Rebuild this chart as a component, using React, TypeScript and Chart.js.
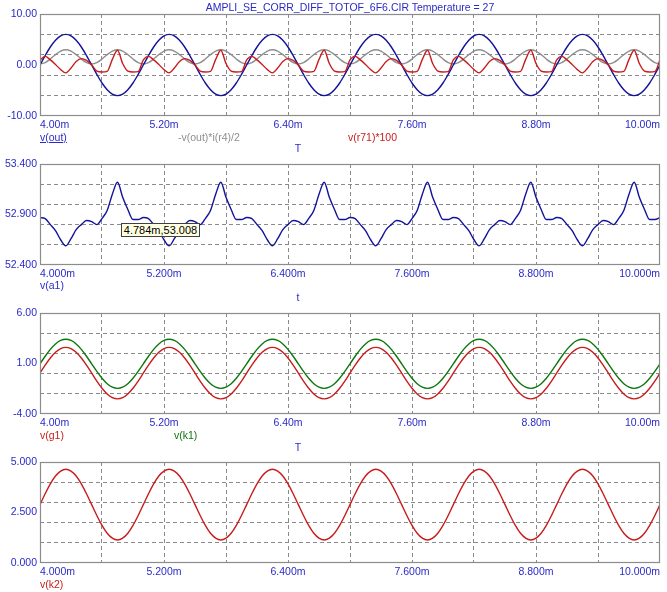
import React, { useEffect, useRef } from 'react';
import { Chart, registerables } from 'chart.js';

Chart.register(...registerables);

// ---------- data (time in ms) ----------
const TIME_MS = [
  4.00, 4.05, 4.10, 4.15, 4.20, 4.25, 4.30, 4.35, 4.40, 4.45, 4.50, 4.55, 4.60, 4.65, 4.70, 4.75, 4.80, 4.85, 4.90, 4.95,
  5.00, 5.05, 5.10, 5.15, 5.20, 5.25, 5.30, 5.35, 5.40, 5.45, 5.50, 5.55, 5.60, 5.65, 5.70, 5.75, 5.80, 5.85, 5.90, 5.95,
  6.00, 6.05, 6.10, 6.15, 6.20, 6.25, 6.30, 6.35, 6.40, 6.45, 6.50, 6.55, 6.60, 6.65, 6.70, 6.75, 6.80, 6.85, 6.90, 6.95,
  7.00, 7.05, 7.10, 7.15, 7.20, 7.25, 7.30, 7.35, 7.40, 7.45, 7.50, 7.55, 7.60, 7.65, 7.70, 7.75, 7.80, 7.85, 7.90, 7.95,
  8.00, 8.05, 8.10, 8.15, 8.20, 8.25, 8.30, 8.35, 8.40, 8.45, 8.50, 8.55, 8.60, 8.65, 8.70, 8.75, 8.80, 8.85, 8.90, 8.95,
  9.00, 9.05, 9.10, 9.15, 9.20, 9.25, 9.30, 9.35, 9.40, 9.45, 9.50, 9.55, 9.60, 9.65, 9.70, 9.75, 9.80, 9.85, 9.90, 9.95,
  10.00,
];

const V_OUT = [
  0, 1.85, 3.53, 4.85, 5.71, 6.00, 5.71, 4.85, 3.53, 1.85, 0, -1.85, -3.53, -4.85, -5.71, -6.00, -5.71, -4.85, -3.53, -1.85,
  0, 1.85, 3.53, 4.85, 5.71, 6.00, 5.71, 4.85, 3.53, 1.85, 0, -1.85, -3.53, -4.85, -5.71, -6.00, -5.71, -4.85, -3.53, -1.85,
  0, 1.85, 3.53, 4.85, 5.71, 6.00, 5.71, 4.85, 3.53, 1.85, 0, -1.85, -3.53, -4.85, -5.71, -6.00, -5.71, -4.85, -3.53, -1.85,
  0, 1.85, 3.53, 4.85, 5.71, 6.00, 5.71, 4.85, 3.53, 1.85, 0, -1.85, -3.53, -4.85, -5.71, -6.00, -5.71, -4.85, -3.53, -1.85,
  0, 1.85, 3.53, 4.85, 5.71, 6.00, 5.71, 4.85, 3.53, 1.85, 0, -1.85, -3.53, -4.85, -5.71, -6.00, -5.71, -4.85, -3.53, -1.85,
  0, 1.85, 3.53, 4.85, 5.71, 6.00, 5.71, 4.85, 3.53, 1.85, 0, -1.85, -3.53, -4.85, -5.71, -6.00, -5.71, -4.85, -3.53, -1.85,
  0,
];

const POWER_R4 = [
  0.20, 0.47, 1.17, 2.03, 2.73, 3.00, 2.73, 2.03, 1.17, 0.47, 0.20, 0.47, 1.17, 2.03, 2.73, 3.00, 2.73, 2.03, 1.17, 0.47,
  0.20, 0.47, 1.17, 2.03, 2.73, 3.00, 2.73, 2.03, 1.17, 0.47, 0.20, 0.47, 1.17, 2.03, 2.73, 3.00, 2.73, 2.03, 1.17, 0.47,
  0.20, 0.47, 1.17, 2.03, 2.73, 3.00, 2.73, 2.03, 1.17, 0.47, 0.20, 0.47, 1.17, 2.03, 2.73, 3.00, 2.73, 2.03, 1.17, 0.47,
  0.20, 0.47, 1.17, 2.03, 2.73, 3.00, 2.73, 2.03, 1.17, 0.47, 0.20, 0.47, 1.17, 2.03, 2.73, 3.00, 2.73, 2.03, 1.17, 0.47,
  0.20, 0.47, 1.17, 2.03, 2.73, 3.00, 2.73, 2.03, 1.17, 0.47, 0.20, 0.47, 1.17, 2.03, 2.73, 3.00, 2.73, 2.03, 1.17, 0.47,
  0.20, 0.47, 1.17, 2.03, 2.73, 3.00, 2.73, 2.03, 1.17, 0.47, 0.20, 0.47, 1.17, 2.03, 2.73, 3.00, 2.73, 2.03, 1.17, 0.47,
  0.20,
];

const V_R71 = [
  1.0, 1.7, 1.0, 0.1, -0.9, -1.55, -0.6, 0.7, 1.25, 0.9, 0.0, -1.2, -1.37, -1.25, 1.1, 2.9, 0.3, -1.2, -1.37, -1.3,
  1.0, 1.7, 1.0, 0.1, -0.9, -1.55, -0.6, 0.7, 1.25, 0.9, 0.0, -1.2, -1.37, -1.25, 1.1, 2.9, 0.3, -1.2, -1.37, -1.3,
  1.0, 1.7, 1.0, 0.1, -0.9, -1.55, -0.6, 0.7, 1.25, 0.9, 0.0, -1.2, -1.37, -1.25, 1.1, 2.9, 0.3, -1.2, -1.37, -1.3,
  1.0, 1.7, 1.0, 0.1, -0.9, -1.55, -0.6, 0.7, 1.25, 0.9, 0.0, -1.2, -1.37, -1.25, 1.1, 2.9, 0.3, -1.2, -1.37, -1.3,
  1.0, 1.7, 1.0, 0.1, -0.9, -1.55, -0.6, 0.7, 1.25, 0.9, 0.0, -1.2, -1.37, -1.25, 1.1, 2.9, 0.3, -1.2, -1.37, -1.3,
  1.0, 1.7, 1.0, 0.1, -0.9, -1.55, -0.6, 0.7, 1.25, 0.9, 0.0, -1.2, -1.37, -1.25, 1.1, 2.9, 0.3, -1.2, -1.37, -1.3,
  1.0,
];

const V_A1 = [
  52.87, 52.86, 52.80, 52.74, 52.65, 52.59, 52.66, 52.75, 52.80, 52.84, 52.83, 52.80, 52.86, 52.94, 53.10, 53.22, 53.07, 52.95, 52.85, 52.85,
  52.87, 52.86, 52.80, 52.74, 52.65, 52.59, 52.66, 52.75, 52.80, 52.84, 52.83, 52.80, 52.86, 52.94, 53.10, 53.22, 53.07, 52.95, 52.85, 52.85,
  52.87, 52.86, 52.80, 52.74, 52.65, 52.59, 52.66, 52.75, 52.80, 52.84, 52.83, 52.80, 52.86, 52.94, 53.10, 53.22, 53.07, 52.95, 52.85, 52.85,
  52.87, 52.86, 52.80, 52.74, 52.65, 52.59, 52.66, 52.75, 52.80, 52.84, 52.83, 52.80, 52.86, 52.94, 53.10, 53.22, 53.07, 52.95, 52.85, 52.85,
  52.87, 52.86, 52.80, 52.74, 52.65, 52.59, 52.66, 52.75, 52.80, 52.84, 52.83, 52.80, 52.86, 52.94, 53.10, 53.22, 53.07, 52.95, 52.85, 52.85,
  52.87, 52.86, 52.80, 52.74, 52.65, 52.59, 52.66, 52.75, 52.80, 52.84, 52.83, 52.80, 52.86, 52.94, 53.10, 53.22, 53.07, 52.95, 52.85, 52.85,
  52.87,
];

const V_G1 = [
  0.05, 0.84, 1.55, 2.11, 2.48, 2.60, 2.48, 2.11, 1.55, 0.84, 0.05, -0.74, -1.45, -2.01, -2.38, -2.50, -2.38, -2.01, -1.45, -0.74,
  0.05, 0.84, 1.55, 2.11, 2.48, 2.60, 2.48, 2.11, 1.55, 0.84, 0.05, -0.74, -1.45, -2.01, -2.38, -2.50, -2.38, -2.01, -1.45, -0.74,
  0.05, 0.84, 1.55, 2.11, 2.48, 2.60, 2.48, 2.11, 1.55, 0.84, 0.05, -0.74, -1.45, -2.01, -2.38, -2.50, -2.38, -2.01, -1.45, -0.74,
  0.05, 0.84, 1.55, 2.11, 2.48, 2.60, 2.48, 2.11, 1.55, 0.84, 0.05, -0.74, -1.45, -2.01, -2.38, -2.50, -2.38, -2.01, -1.45, -0.74,
  0.05, 0.84, 1.55, 2.11, 2.48, 2.60, 2.48, 2.11, 1.55, 0.84, 0.05, -0.74, -1.45, -2.01, -2.38, -2.50, -2.38, -2.01, -1.45, -0.74,
  0.05, 0.84, 1.55, 2.11, 2.48, 2.60, 2.48, 2.11, 1.55, 0.84, 0.05, -0.74, -1.45, -2.01, -2.38, -2.50, -2.38, -2.01, -1.45, -0.74,
  0.05,
];

const V_K1 = [
  0.97, 1.72, 2.40, 2.94, 3.28, 3.40, 3.28, 2.94, 2.40, 1.72, 0.97, 0.22, -0.46, -1.00, -1.34, -1.46, -1.34, -1.00, -0.46, 0.22,
  0.97, 1.72, 2.40, 2.94, 3.28, 3.40, 3.28, 2.94, 2.40, 1.72, 0.97, 0.22, -0.46, -1.00, -1.34, -1.46, -1.34, -1.00, -0.46, 0.22,
  0.97, 1.72, 2.40, 2.94, 3.28, 3.40, 3.28, 2.94, 2.40, 1.72, 0.97, 0.22, -0.46, -1.00, -1.34, -1.46, -1.34, -1.00, -0.46, 0.22,
  0.97, 1.72, 2.40, 2.94, 3.28, 3.40, 3.28, 2.94, 2.40, 1.72, 0.97, 0.22, -0.46, -1.00, -1.34, -1.46, -1.34, -1.00, -0.46, 0.22,
  0.97, 1.72, 2.40, 2.94, 3.28, 3.40, 3.28, 2.94, 2.40, 1.72, 0.97, 0.22, -0.46, -1.00, -1.34, -1.46, -1.34, -1.00, -0.46, 0.22,
  0.97, 1.72, 2.40, 2.94, 3.28, 3.40, 3.28, 2.94, 2.40, 1.72, 0.97, 0.22, -0.46, -1.00, -1.34, -1.46, -1.34, -1.00, -0.46, 0.22,
  0.97,
];

const V_K2 = [
  2.89, 3.43, 3.92, 4.31, 4.55, 4.64, 4.55, 4.31, 3.92, 3.43, 2.89, 2.35, 1.86, 1.47, 1.23, 1.14, 1.23, 1.47, 1.86, 2.35,
  2.89, 3.43, 3.92, 4.31, 4.55, 4.64, 4.55, 4.31, 3.92, 3.43, 2.89, 2.35, 1.86, 1.47, 1.23, 1.14, 1.23, 1.47, 1.86, 2.35,
  2.89, 3.43, 3.92, 4.31, 4.55, 4.64, 4.55, 4.31, 3.92, 3.43, 2.89, 2.35, 1.86, 1.47, 1.23, 1.14, 1.23, 1.47, 1.86, 2.35,
  2.89, 3.43, 3.92, 4.31, 4.55, 4.64, 4.55, 4.31, 3.92, 3.43, 2.89, 2.35, 1.86, 1.47, 1.23, 1.14, 1.23, 1.47, 1.86, 2.35,
  2.89, 3.43, 3.92, 4.31, 4.55, 4.64, 4.55, 4.31, 3.92, 3.43, 2.89, 2.35, 1.86, 1.47, 1.23, 1.14, 1.23, 1.47, 1.86, 2.35,
  2.89, 3.43, 3.92, 4.31, 4.55, 4.64, 4.55, 4.31, 3.92, 3.43, 2.89, 2.35, 1.86, 1.47, 1.23, 1.14, 1.23, 1.47, 1.86, 2.35,
  2.89,
];

// ---------- axis ticks ----------
const X_TICKS = [4.0, 4.6, 5.2, 5.8, 6.4, 7.0, 7.6, 8.2, 8.8, 9.4, 10.0];
const X_LABELS_2 = ['4.00m', '', '5.20m', '', '6.40m', '', '7.60m', '', '8.80m', '', '10.00m'];
const X_LABELS_3 = ['4.000m', '', '5.200m', '', '6.400m', '', '7.600m', '', '8.800m', '', '10.000m'];

const P1_Y_TICKS = [-10, -6, -2, 0, 2, 6, 10];
const P1_Y_LABELS = ['-10.00', '', '', '0.00', '', '', '10.00'];
const P1_Y_GRID = [false, true, true, false, true, true, false];

const P2_Y_TICKS = [52.4, 52.6, 52.8, 52.9, 53.0, 53.2, 53.4];
const P2_Y_LABELS = ['52.400', '', '', '52.900', '', '', '53.400'];
const P2_Y_GRID = [false, true, true, false, true, true, false];

const P3_Y_TICKS = [-4, -2, 0, 1, 2, 4, 6];
const P3_Y_LABELS = ['-4.00', '', '', '1.00', '', '', '6.00'];
const P3_Y_GRID = [false, true, true, false, true, true, false];

const P4_Y_TICKS = [0, 1, 2, 2.5, 3, 4, 5];
const P4_Y_LABELS = ['0.000', '', '', '2.500', '', '', '5.000'];
const P4_Y_GRID = [false, true, true, false, true, true, false];

// ---------- styles ----------
const W = 667;
const H = 592;
const FONT = 'Arial, "Liberation Sans", sans-serif';
const TEXT_BLUE = '#2a2ac8';
const GRID = '#8a8a8a';
const FRAME = '#8c8c8c';
const NAVY = '#12129a';
const RED = '#c81c1c';
const GRAY = '#8e8e8e';
const GREEN = '#0c780c';

type Series = { values: number[]; color: string };
type Panel = {
  top: number;
  bottom: number;
  yMin: number;
  yMax: number;
  yTicks: number[];
  yLabels: string[];
  yGrid: boolean[];
  xLabels: string[];
  series: Series[];
};

const PANELS: Panel[] = [
  {
    top: 14, bottom: 116, yMin: -10, yMax: 10,
    yTicks: P1_Y_TICKS, yLabels: P1_Y_LABELS, yGrid: P1_Y_GRID, xLabels: X_LABELS_2,
    series: [
      { values: V_R71, color: RED },
      { values: V_OUT, color: NAVY },
      { values: POWER_R4, color: GRAY },
    ],
  },
  {
    top: 164, bottom: 265, yMin: 52.4, yMax: 53.4,
    yTicks: P2_Y_TICKS, yLabels: P2_Y_LABELS, yGrid: P2_Y_GRID, xLabels: X_LABELS_3,
    series: [{ values: V_A1, color: NAVY }],
  },
  {
    top: 313, bottom: 414, yMin: -4, yMax: 6,
    yTicks: P3_Y_TICKS, yLabels: P3_Y_LABELS, yGrid: P3_Y_GRID, xLabels: X_LABELS_2,
    series: [
      { values: V_G1, color: RED },
      { values: V_K1, color: GREEN },
    ],
  },
  {
    top: 462, bottom: 563, yMin: 0, yMax: 5,
    yTicks: P4_Y_TICKS, yLabels: P4_Y_LABELS, yGrid: P4_Y_GRID, xLabels: X_LABELS_3,
    series: [{ values: V_K2, color: RED }],
  },
];

const framePlugin = {
  id: 'frame',
  afterDraw(chart: any) {
    const { ctx, chartArea } = chart;
    const { left, top, right, bottom } = chartArea;
    ctx.save();
    ctx.strokeStyle = FRAME;
    ctx.lineWidth = 1.2;
    ctx.setLineDash([]);
    ctx.strokeRect(left + 0.5, top + 0.5, right - left - 1, bottom - top - 1);
    ctx.restore();
  },
};

function PanelChart({ panel }: { panel: Panel }) {
  const ref = useRef<HTMLCanvasElement | null>(null);
  useEffect(() => {
    if (!ref.current) return;
    const xAxisH = 20;
    const chart = new Chart(ref.current, {
      type: 'line',
      data: {
        datasets: panel.series.map((s) => ({
          data: TIME_MS.map((t, i) => ({ x: t, y: s.values[i] })),
          borderColor: s.color,
          borderWidth: 1.4,
          pointRadius: 0,
          fill: false,
          cubicInterpolationMode: 'monotone' as const,
        })),
      },
      options: {
        animation: false,
        responsive: false,
        events: [],
        layout: { padding: { top: panel.top, bottom: H - panel.bottom - xAxisH, left: 0, right: 7 } },
        plugins: { legend: { display: false }, tooltip: { enabled: false }, title: { display: false } },
        scales: {
          x: {
            type: 'linear',
            min: 4,
            max: 10,
            afterBuildTicks: (s: any) => {
              s.ticks = X_TICKS.map((v) => ({ value: v }));
            },
            afterFit: (s: any) => {
              s.height = xAxisH;
            },
            grid: {
              color: (c: any) => (c.index > 0 && c.index < X_TICKS.length - 1 ? GRID : 'rgba(0,0,0,0)'),
              drawTicks: false,
              lineWidth: 1,
            },
            border: { display: false, dash: [4, 3] },
            ticks: {
              autoSkip: false,
              maxRotation: 0,
              align: 'inner',
              padding: 3,
              color: TEXT_BLUE,
              font: { family: FONT, size: 10.5 },
              callback: (_v: any, i: number) => panel.xLabels[i],
            },
          },
          y: {
            type: 'linear',
            min: panel.yMin,
            max: panel.yMax,
            afterBuildTicks: (s: any) => {
              s.ticks = panel.yTicks.map((v) => ({ value: v }));
            },
            afterFit: (s: any) => {
              s.width = 40;
            },
            grid: {
              color: (c: any) => (panel.yGrid[c.index] ? GRID : 'rgba(0,0,0,0)'),
              drawTicks: false,
              lineWidth: 1,
            },
            border: { display: false, dash: [4, 3] },
            ticks: {
              autoSkip: false,
              padding: 3,
              color: TEXT_BLUE,
              font: { family: FONT, size: 10.5 },
              callback: (_v: any, i: number) => panel.yLabels[i],
            },
          },
        },
      } as any,
      plugins: [framePlugin],
    });
    return () => chart.destroy();
  }, [panel]);
  return (
    <canvas
      ref={ref}
      width={W}
      height={H}
      style={{ position: 'absolute', left: 0, top: 0, width: W, height: H }}
    />
  );
}

function Txt(props: {
  x: number; y: number; text: string; color: string; size?: number;
  center?: boolean; underline?: boolean;
}) {
  const size = props.size ?? 10.5;
  return (
    <div
      style={{
        position: 'absolute',
        left: props.x,
        top: props.y - 7,
        height: 14,
        lineHeight: '14px',
        fontFamily: FONT,
        fontSize: size,
        color: props.color,
        whiteSpace: 'nowrap',
        transform: props.center ? 'translateX(-50%)' : undefined,
        textDecoration: props.underline ? 'underline' : undefined,
      }}
    >
      {props.text}
    </div>
  );
}

export default function App() {
  return (
    <div style={{ position: 'absolute', left: 0, top: 0, width: W, height: H, background: '#ffffff', overflow: 'hidden' }}>
      {PANELS.map((p, i) => (
        <PanelChart key={i} panel={p} />
      ))}
      <Txt x={350} y={7} text="AMPLI_SE_CORR_DIFF_TOTOF_6F6.CIR Temperature = 27" color={TEXT_BLUE} center size={10.5} />
      <Txt x={40} y={137} text="v(out)" color={TEXT_BLUE} underline />
      <Txt x={178} y={137} text="-v(out)*i(r4)/2" color={GRAY} />
      <Txt x={348} y={137} text="v(r71)*100" color={RED} />
      <Txt x={298} y={148} text="T" color={TEXT_BLUE} center />
      <Txt x={40} y={285} text="v(a1)" color={TEXT_BLUE} />
      <Txt x={298} y={297} text="t" color={TEXT_BLUE} center />
      <Txt x={40} y={435} text="v(g1)" color={RED} />
      <Txt x={174} y={435} text="v(k1)" color={GREEN} />
      <Txt x={298} y={447} text="T" color={TEXT_BLUE} center />
      <Txt x={40} y={584} text="v(k2)" color={RED} />
      <div
        style={{
          position: 'absolute',
          left: 121,
          top: 223,
          width: 79,
          height: 14,
          boxSizing: 'border-box',
          border: '1px solid #404040',
          background: '#ffffe1',
          fontFamily: FONT,
          fontSize: 11,
          lineHeight: '12px',
          color: '#000000',
          textAlign: 'center',
          whiteSpace: 'nowrap',
        }}
      >
        4.784m,53.008
      </div>
    </div>
  );
}
